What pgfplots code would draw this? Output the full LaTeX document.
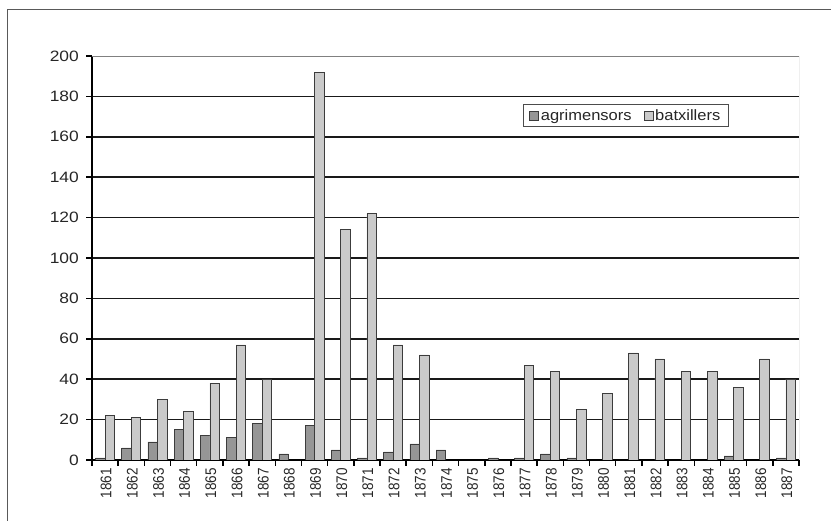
\documentclass[border=0pt]{standalone}
\usepackage{fontspec}
\setmainfont{Liberation Sans}
\usepackage{graphicx}
\usepackage{pgfplots}
\usepackage{pgfplotstable}
\pgfplotsset{compat=1.18}
\definecolor{barDark}{RGB}{150,150,150}
\definecolor{barLight}{RGB}{202,202,202}
\definecolor{edge}{RGB}{60,60,60}
\newcommand{\yl}[1]{\scalebox{1}[1.14]{#1}}

% nan = no bar drawn
\pgfplotstableread{
x a b
0 1 22
1 6 21
2 9 30
3 15 24
4 12 38
5 11 57
6 18 40
7 3 nan
8 17 192
9 5 114
10 1 122
11 4 57
12 8 52
13 5 nan
14 nan nan
15 1 nan
16 1 47
17 3 44
18 1 25
19 nan 33
20 nan 53
21 nan 50
22 nan 44
23 nan 44
24 2 36
25 nan 50
26 1 40
}\data

\begin{document}
\begin{tikzpicture}[x=1pt,y=1pt]
\useasboundingbox (0,0) rectangle (831,521);
\draw[black!65, line width=0.9pt] (7,0) -- (7,512) -- (831,512);
\begin{axis}[
    at={(92pt,61pt)}, anchor=south west,
    scale only axis, width=707pt, height=404pt,
    ybar=0pt, bar width=9.5pt,
    xmin=-0.5, xmax=26.5, ymin=0, ymax=200,
    unbounded coords=discard,
    axis lines=left,
    axis line style={-, line width=1.8pt, black},
    tick pos=left, tick align=outside, major tick length=6pt,
    tick style={line width=1.5pt, black},
    ytick={0,20,...,180}, extra y ticks={200},
    extra y tick style={grid=none},
    ymajorgrids, grid style={line width=1.6pt, black!90},
    xtick={-0.5,0.5,1.5,2.5,3.5,4.5,5.5,6.5,7.5,8.5,9.5,10.5,11.5,12.5,13.5,
           14.5,15.5,16.5,17.5,18.5,19.5,20.5,21.5,22.5,23.5,24.5,25.5,26.5},
    x tick label as interval,
    xticklabels={\yl{1861},\yl{1862},\yl{1863},\yl{1864},\yl{1865},\yl{1866},\yl{1867},
                 \yl{1868},\yl{1869},\yl{1870},\yl{1871},\yl{1872},\yl{1873},\yl{1874},
                 \yl{1875},\yl{1876},\yl{1877},\yl{1878},\yl{1879},\yl{1880},\yl{1881},
                 \yl{1882},\yl{1883},\yl{1884},\yl{1885},\yl{1886},\yl{1887}},
    xticklabel style={rotate=90, anchor=east, font=\fontsize{13.5}{14}\selectfont, text=black!85, inner sep=2pt, yshift=-1pt},
    yticklabel={\scalebox{1.16}[1]{\pgfmathprintnumber{\tick}}},
    yticklabel style={font=\fontsize{15}{16}\selectfont, text=black!85, inner sep=2pt, xshift=-5pt},
    /pgf/number format/assume math mode=true,
    legend style={at={(0.755,0.853)}, anchor=center, legend columns=2,
        draw=black!70, line width=0.6pt, fill=white,
        font=\fontsize{15}{17}\selectfont, text=black!85,
        inner xsep=6pt, inner ysep=3pt,
        /tikz/every even column/.append style={column sep=10pt}},
    legend image code/.code={\draw[#1, line width=0.6pt] (0pt,-4.5pt) rectangle (9pt,4.5pt);},
]
\addplot[fill=barDark, draw=edge, line width=0.6pt] table[x=x, y=a] {\data};
\addplot[fill=barLight, draw=edge, line width=0.6pt] table[x=x, y=b] {\data};
\legend{\scalebox{1.1}[1]{agrimensors}, \scalebox{1.1}[1]{batxillers}}
\draw[black!50, line width=0.7pt] (rel axis cs:0,1) -- (rel axis cs:1,1) -- (rel axis cs:1,0);
\end{axis}
\end{tikzpicture}
\end{document}
